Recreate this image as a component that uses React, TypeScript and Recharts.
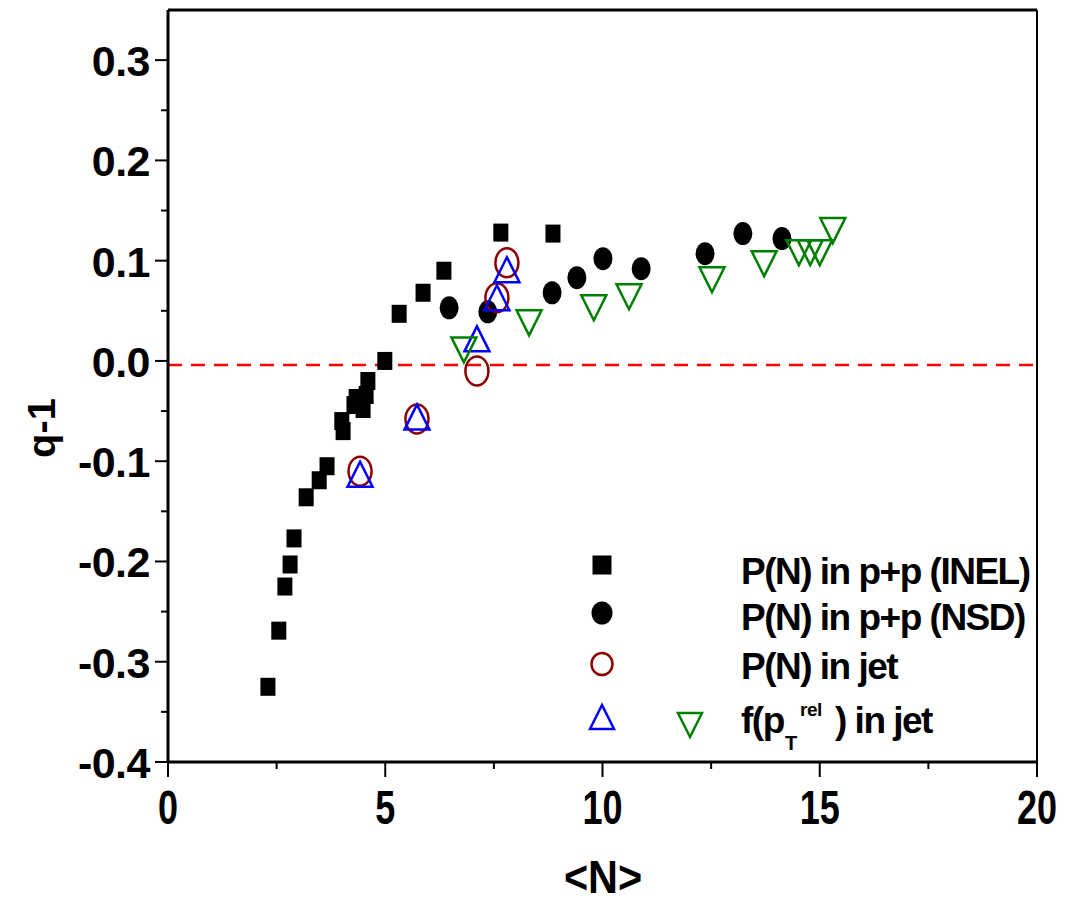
import React from 'react';
import { ScatterChart, Scatter, XAxis, YAxis, ReferenceLine, Legend } from 'recharts';

// ---- data ----
const inelN = [2.3, 2.55, 2.69, 2.81, 2.9, 3.18, 3.48, 3.66, 4.03, 4.0, 4.28, 4.33, 4.49, 4.56, 4.6, 4.99, 5.32, 5.87, 6.35, 7.66, 8.86];
const inelQ = [-0.325, -0.269, -0.225, -0.203, -0.177, -0.136, -0.119, -0.105, -0.07, -0.06, -0.044, -0.037, -0.048, -0.034, -0.02, 0.0, 0.047, 0.068, 0.09, 0.128, 0.127];

const nsdN = [6.47, 7.36, 8.84, 9.41, 10.01, 10.89, 12.36, 13.23, 14.13];
const nsdQ = [0.053, 0.049, 0.068, 0.083, 0.102, 0.092, 0.107, 0.127, 0.122];

const jetN = [4.42, 5.73, 7.11, 7.57, 7.8];
const jetQ = [-0.11, -0.058, -0.01, 0.063, 0.098];

const ptUpN = [4.42, 5.73, 7.11, 7.57, 7.8];
const ptUpQ = [-0.113, -0.056, 0.022, 0.063, 0.091];

const ptDownN = [6.81, 8.31, 9.8, 10.61, 12.52, 13.72, 14.52, 14.78, 15.0, 15.3];
const ptDownQ = [0.011, 0.038, 0.053, 0.064, 0.081, 0.097, 0.108, 0.108, 0.108, 0.13];

const xDomain = [0, 20];
const yDomain = [-0.4, 0.35];
const xTicks = [0, 2.5, 5, 7.5, 10, 12.5, 15, 17.5, 20];
const yTicks = [-0.4, -0.35, -0.3, -0.25, -0.2, -0.15, -0.1, -0.05, 0, 0.05, 0.1, 0.15, 0.2, 0.25, 0.3];
const zeroLineQ = -0.004;

const legendLabels = ['P(N) in p+p (INEL)', 'P(N) in p+p (NSD)', 'P(N) in jet'];

const xTitle = '<N>';
const yTitle = 'q-1';

// ---- helpers ----
const FONT = '"Liberation Sans", Arial, Helvetica, sans-serif';
const zip = (xs: number[], ys: number[]) => xs.map((n, i) => ({ n, q: ys[i] }));

const inelData = zip(inelN, inelQ);
const nsdData = zip(nsdN, nsdQ);
const jetData = zip(jetN, jetQ);
const upData = zip(ptUpN, ptUpQ);
const downData = zip(ptDownN, ptDownQ);

const SquareMark = ({ cx, cy, w = 15, h = 18 }: any) => (
  <rect x={cx - w / 2} y={cy - h / 2} width={w} height={h} fill="#000" />
);
const DotMark = ({ cx, cy, rx = 9.5, ry = 11.5 }: any) => (
  <ellipse cx={cx} cy={cy} rx={rx} ry={ry} fill="#000" />
);
const RingMark = ({ cx, cy, rx = 11.5, ry = 14.5 }: any) => (
  <ellipse cx={cx} cy={cy} rx={rx} ry={ry} fill="none" stroke="#8b0000" strokeWidth={2.5} />
);
const UpMark = ({ cx, cy, s = 12.5 }: any) => (
  <polygon
    points={`${cx},${cy - s} ${cx - s},${cy + s} ${cx + s},${cy + s}`}
    fill="none"
    stroke="#0000ff"
    strokeWidth={2.5}
  />
);
const DownMark = ({ cx, cy, s = 12.5 }: any) => (
  <polygon
    points={`${cx - s},${cy - s} ${cx + s},${cy - s} ${cx},${cy + s}`}
    fill="none"
    stroke="#008000"
    strokeWidth={2.5}
  />
);

const YTick = (props: any) => {
  const { x, y, payload } = props;
  const v = payload.value;
  const major = Math.abs(Math.round(v * 100)) % 10 === 0;
  return (
    <g>
      <line x1={x} x2={x - (major ? 13 : 7)} y1={y} y2={y} stroke="#000" strokeWidth={2} />
      {major && (
        <text x={x - 18} y={y + 16} textAnchor="end" fontFamily={FONT} fontWeight="bold" fontSize={43} letterSpacing={-0.5} fill="#000">
          {v.toFixed(1)}
        </text>
      )}
    </g>
  );
};

const XTick = (props: any) => {
  const { x, y, payload } = props;
  const v = payload.value;
  const major = v % 5 === 0;
  return (
    <g>
      <line x1={x} x2={x} y1={y} y2={y + (major ? 15 : 7)} stroke="#000" strokeWidth={2} />
      {major && (
        <text
          transform={`translate(${x},${y + 62}) scale(0.75,1)`}
          textAnchor="middle"
          fontFamily={FONT}
          fontWeight="bold"
          fontSize={48}
          fill="#000"
        >
          {v}
        </text>
      )}
    </g>
  );
};

const LegendBox = () => {
  const tx = 741;
  const rows = [584, 630, 679];
  const textProps = { fontFamily: FONT, fontWeight: 'bold' as const, fontSize: 37, letterSpacing: -1.5, fill: '#000' };
  return (
    <svg width={1066} height={904} style={{ position: 'absolute', left: 0, top: 0, overflow: 'visible', pointerEvents: 'none' }}>
      <SquareMark cx={602} cy={565} w={19} h={19} />
      <DotMark cx={602} cy={613} rx={10.5} ry={11.5} />
      <RingMark cx={602} cy={664} rx={10.5} ry={11} />
      <UpMark cx={602} cy={717} s={12} />
      <DownMark cx={690} cy={725} s={12} />
      {legendLabels.map((t, i) => (
        <text key={t} x={tx} y={rows[i]} {...textProps}>
          {t}
        </text>
      ))}
      <text x={tx} y={733} {...textProps}>
        f(p
        <tspan x={785} dy={17} fontSize={20} letterSpacing={0}>T</tspan>
        <tspan x={800} dy={-34} fontSize={19} letterSpacing={-0.5}>rel</tspan>
        <tspan x={835} dy={17}>) in jet</tspan>
      </text>
    </svg>
  );
};

export default function App() {
  return (
    <div style={{ position: 'absolute', left: 0, top: 0, width: 1066, height: 904, background: '#fff' }}>
      <ScatterChart width={1066} height={904} margin={{ top: 10, right: 29, bottom: 0, left: 0 }}>
        <XAxis
          type="number"
          dataKey="n"
          domain={xDomain}
          ticks={xTicks}
          interval={0}
          allowDataOverflow
          height={142}
          tickLine={false}
          tickSize={0}
          tickMargin={0}
          tick={<XTick />}
          axisLine={{ stroke: '#000', strokeWidth: 3 }}
        />
        <YAxis
          type="number"
          dataKey="q"
          domain={yDomain}
          ticks={yTicks}
          interval={0}
          allowDataOverflow
          width={168}
          tickLine={false}
          tickSize={0}
          tickMargin={0}
          tick={<YTick />}
          axisLine={{ stroke: '#000', strokeWidth: 3 }}
        />
        <ReferenceLine y={yDomain[1]} stroke="#000" strokeWidth={3} />
        <ReferenceLine x={xDomain[1]} stroke="#000" strokeWidth={2} />
        <Scatter data={inelData} isAnimationActive={false} shape={(p: any) => <SquareMark cx={p.cx} cy={p.cy} />} />
        <Scatter data={nsdData} isAnimationActive={false} shape={(p: any) => <DotMark cx={p.cx} cy={p.cy} />} />
        <Scatter data={jetData} isAnimationActive={false} shape={(p: any) => <RingMark cx={p.cx} cy={p.cy} />} />
        <Scatter data={upData} isAnimationActive={false} shape={(p: any) => <UpMark cx={p.cx} cy={p.cy} />} />
        <Scatter data={downData} isAnimationActive={false} shape={(p: any) => <DownMark cx={p.cx} cy={p.cy} />} />
        <ReferenceLine y={zeroLineQ} stroke="#ff0000" strokeWidth={2.5} strokeDasharray="14 9" />
        <Legend
          layout="horizontal"
          verticalAlign="middle"
          align="center"
          wrapperStyle={{ left: 0, top: 0, width: 0, height: 0 }}
          content={() => <LegendBox />}
        />
      </ScatterChart>
      <svg width={1066} height={904} style={{ position: 'absolute', left: 0, top: 0, pointerEvents: 'none' }}>
        <text
          transform={`translate(55,428) rotate(-90) scale(1.05,1)`}
          textAnchor="middle"
          fontFamily={FONT}
          fontWeight="bold"
          fontSize={38}
          fill="#000"
        >
          {yTitle}
        </text>
        <text
          transform={`translate(603,893) scale(0.9,1)`}
          textAnchor="middle"
          fontFamily={FONT}
          fontWeight="bold"
          fontSize={46}
          fill="#000"
        >
          {xTitle}
        </text>
      </svg>
    </div>
  );
}
